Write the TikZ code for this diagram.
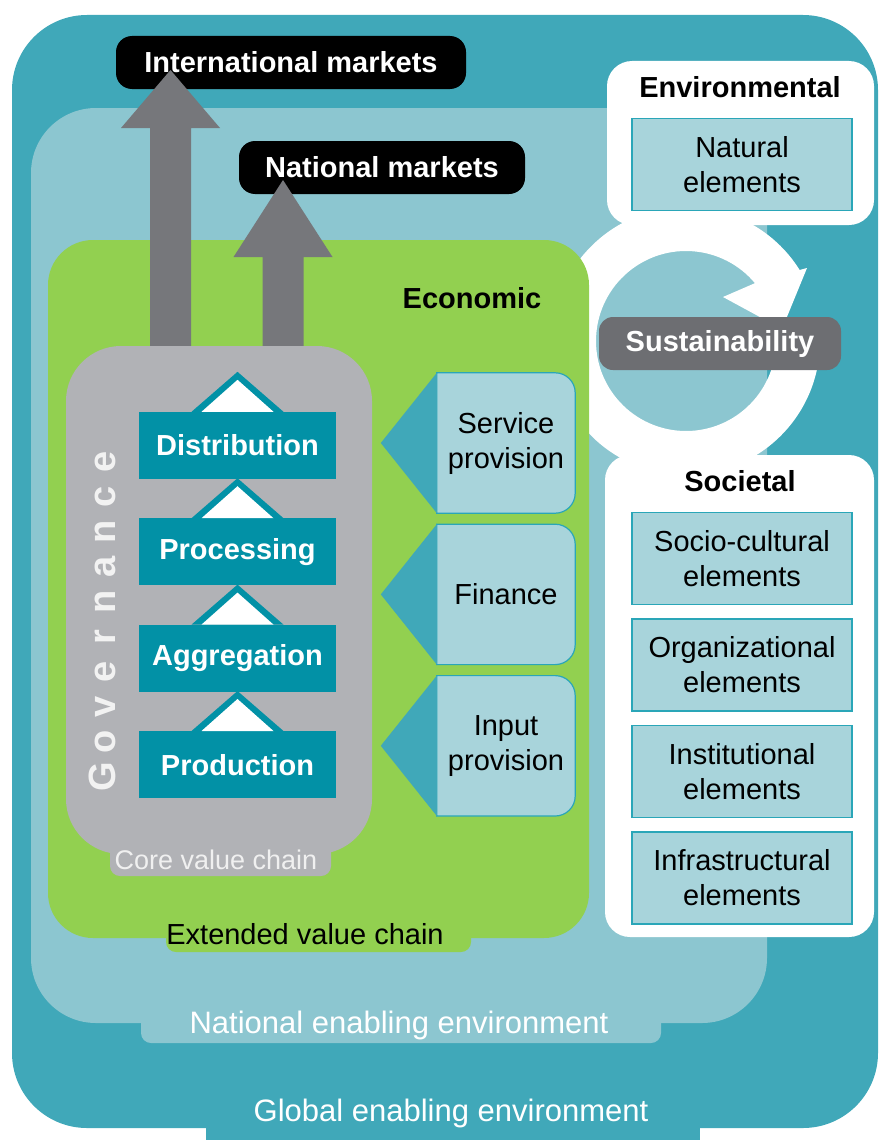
\documentclass[tikz,border=0pt]{standalone}
\usepackage{fontspec}
\setmainfont{Liberation Sans}
\usetikzlibrary{calc,positioning}

\definecolor{globalc}{RGB}{64,168,185}
\definecolor{nationalc}{RGB}{140,198,208}
\definecolor{econc}{RGB}{146,208,80}
\definecolor{corec}{RGB}{177,178,182}
\definecolor{arrowc}{RGB}{118,119,123}
\definecolor{stagec}{RGB}{2,145,166}
\definecolor{elemc}{RGB}{168,212,219}
\definecolor{edgec}{RGB}{42,166,184}
\definecolor{sustc}{RGB}{109,110,114}

\begin{document}
\begin{tikzpicture}[x=1pt,y=-1pt,
    txt/.style={font=\fontsize{29}{35}\selectfont, align=center, inner sep=0pt},
    bold/.style={font=\fontsize{29}{35}\selectfont\bfseries, align=center, inner sep=0pt},
    tabtext/.style={font=\fontsize{31}{35}\selectfont, text=white, inner sep=0pt},
    market/.style={bold, fill=black, text=white, rounded corners=16pt, minimum height=53pt},
    stagebox/.style={bold, fill=stagec, text=white, minimum width=197pt, minimum height=67pt},
    elem/.style={txt, fill=elemc, draw=edgec, line width=1.5pt, minimum width=220pt, minimum height=92pt},
    prov/.style={inner sep=0pt, minimum width=138pt, minimum height=140pt},
    gov/.style={font=\fontsize{38}{40}\selectfont\bfseries, text=white!95!black, inner sep=0pt}]

    \useasboundingbox (0,0) rectangle (880,1140);

    \fill[globalc, rounded corners=75pt] (12,15) rectangle (878,1128);
    \fill[globalc] (206,1080) rectangle (700,1140);
    \node[tabtext] (glob) at (451,1113) {Global enabling environment};

    \fill[nationalc, rounded corners=65pt] (31,108) rectangle (767,1023);
    \fill[nationalc, rounded corners=10pt] (141,980) rectangle (661,1043);
    \node[tabtext] (natl) at (399,1025) {National enabling environment};

    \fill[white, rounded corners=25pt] (607,61) rectangle (874,225);
    \fill[white, rounded corners=25pt] (605,455) rectangle (874,937);

    \coordinate (ring) at (686,341);
    \fill[white] ($(ring)+(5:134)$) arc (5:328:134) -- (807,268) -- (782,329)
       -- (723,297) -- ($(ring)+(320:90)$) arc (320:5:90) -- cycle;

    \node[market, minimum width=350pt] (intl) at (291,62.5) {International markets};
    \node[market, minimum width=286pt] (natm) at (382,167.5) {National markets};

    \fill[econc, rounded corners=45pt] (48,240) rectangle (589,938);
    \fill[econc, rounded corners=10pt] (166,900) rectangle (471,952);
    \node[bold] (econ) at (472,298) {Economic};
    \node[txt] (ext) at (305,934) {Extended value chain};

    \foreach \ax/\tip/\hb in {170.5/70/128, 283/180/257}
             {
               \fill[arrowc] (\ax-20.5,360) -- (\ax-20.5,\hb) -- (\ax-49.5,\hb) -- (\ax,\tip)
                  -- (\ax+49.5,\hb) -- (\ax+20.5,\hb) -- (\ax+20.5,360) -- cycle;
             }

    \fill[corec, rounded corners=55pt] (66,346) rectangle (372,854);
    \fill[corec, rounded corners=10pt] (110,820) rectangle (331,876);
    \node[txt, font=\fontsize{27}{30}\selectfont, text=white!94!black] (core) at (216,860) {Core value chain};

    \node[stagebox] (dist) at (237.5,445.5) {Distribution};
    \node[stagebox, below=39pt of dist] (proc) {Processing};
    \node[stagebox, below=39pt of proc] (aggr) {Aggregation};
    \node[stagebox, below=39pt of aggr] (prod) {Production};
    \foreach \s in {dist,proc,aggr,prod}
             {
               \fill[stagec] ($(\s.north)+(-46,0)$) -- ($(\s.north)+(0,-40)$) -- ($(\s.north)+(46,0)$) -- cycle;
               \fill[white] ($(\s.north)+(-36,0)$) -- ($(\s.north)+(0,-32)$) -- ($(\s.north)+(36,0)$) -- cycle;
             }

    \foreach \l [count=\i] in {G,o,v,e,r,n,a,n,c,e}
             {
               \node[gov, rotate=90, anchor=base] (gov\i) at (115,{777-35*(\i-1)}) {\l};
             }

    \node[prov] (svc) at (506,443) {};
    \node[prov, below=11pt of svc] (fin) {};
    \node[prov, below=11pt of fin] (inp) {};
    \foreach \p in {svc,fin,inp}
             {
               \filldraw[fill=elemc, draw=edgec, line width=1.2pt] (\p.north west)
                  -- ($(\p.north east)+(-20,0)$) arc (-90:0:20)
                  -- ($(\p.south east)+(0,-20)$) arc (0:90:20)
                  -- (\p.south west) -- cycle;
               \fill[globalc] (\p.north west) -- ($(\p.west)+(-56,0)$) -- (\p.south west) -- cycle;
             }
    \node[txt] (svct) at (svc) {Service\\provision};
    \node[txt] (fint) at (fin) {Finance};
    \node[txt] (inpt) at (inp) {Input\\provision};

    \node[bold, fill=sustc, text=white, rounded corners=14pt, minimum width=242pt,
          minimum height=53pt] (sust) at (720,343.5) {Sustainability};

    \node[bold] (envh) at (740,87) {Environmental};
    \node[elem] (natu) at (742,164.5) {Natural\\elements};
    \node[bold] (soch) at (740,481) {Societal};
    \node[elem] (socio) at (742,558.5) {Socio-cultural\\elements};
    \node[elem, below=13pt of socio] (orga) {Organizational\\elements};
    \node[elem, below=13pt of orga] (inst) {Institutional\\elements};
    \node[elem, below=13pt of inst] (infra) {Infrastructural\\elements};

\end{tikzpicture}
\end{document}
